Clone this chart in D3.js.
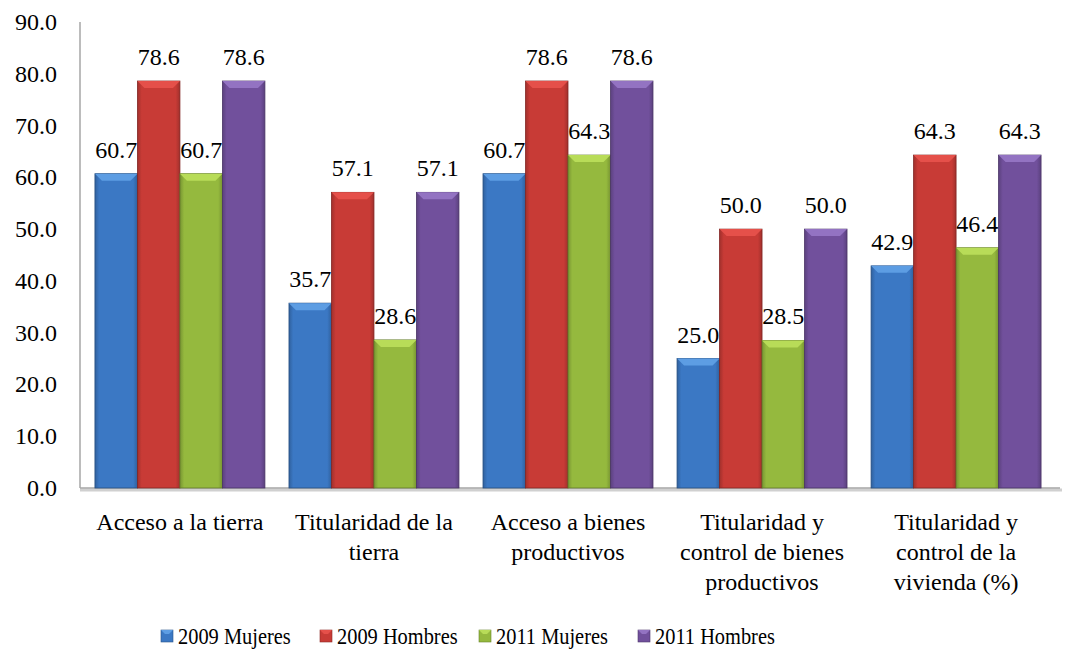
<!DOCTYPE html>
<html>
<head>
<meta charset="utf-8">
<script src="https://cdn.jsdelivr.net/npm/d3@7"></script>
</head>
<body style="margin:0; background:#fff">
<div id="chart"></div>
<script>
// data
var categories = ["Acceso a la tierra", "Titularidad de la tierra", "Acceso a bienes productivos",
  "Titularidad y control de bienes productivos", "Titularidad y control de la vivienda (%)"]
var categoryLines = [
  ["Acceso a la tierra"],
  ["Titularidad de la", "tierra"],
  ["Acceso a bienes", "productivos"],
  ["Titularidad y", "control de bienes", "productivos"],
  ["Titularidad y", "control de la", "vivienda (%)"]
]
var seriesNames = ["2009 Mujeres", "2009 Hombres", "2011 Mujeres", "2011 Hombres"]
var mujeres2009 = [60.7, 35.7, 60.7, 25.0, 42.9]
var hombres2009 = [78.6, 57.1, 78.6, 50.0, 64.3]
var mujeres2011 = [60.7, 28.6, 64.3, 28.5, 46.4]
var hombres2011 = [78.6, 57.1, 78.6, 50.0, 64.3]
var yTicks = [0, 10, 20, 30, 40, 50, 60, 70, 80, 90]

var allSeries = [mujeres2009, hombres2009, mujeres2011, hombres2011]
var colors = ["#3b78c4", "#c83b36", "#95b93e", "#71509c"]
var tops = ["#5d9de3", "#e5504a", "#b8dc58", "#9373c2"]
var font = "'Liberation Serif', 'Times New Roman', serif"

const width = 1069, height = 652

const svg = d3.select("#chart").append("svg")
  .attr("width", width)
  .attr("height", height)

// gradients for the bevelled look
const defs = svg.append("defs")
colors.forEach(function(c, i) {
  const g = defs.append("linearGradient").attr("id", "grad" + i)
    .attr("x1", "0%").attr("x2", "100%").attr("y1", "0%").attr("y2", "0%")
  const dark = d3.color(c).darker(0.6)
  g.append("stop").attr("offset", "0%").attr("stop-color", dark)
  g.append("stop").attr("offset", "10%").attr("stop-color", c)
  g.append("stop").attr("offset", "90%").attr("stop-color", c)
  g.append("stop").attr("offset", "100%").attr("stop-color", dark)
})

const x0 = d3.scaleBand()
  .domain(categories)
  .range([80, 1056])
  .paddingInner(0.124)
  .paddingOuter(0.077)

const x1 = d3.scaleBand()
  .domain(d3.range(4))
  .range([0, x0.bandwidth()])

const y = d3.scaleLinear()
  .domain([0, 90])
  .range([488, 22])

// helper for labels
function label(sel, tx, ty, anchor) {
  return sel.append("text")
    .attr("x", tx)
    .attr("y", ty)
    .attr("text-anchor", anchor)
    .attr("font-family", "Liberation Serif")
    .attr("font-size", 24)
}

// axis lines
svg.append("line").attr("x1", 80).attr("x2", 80).attr("y1", y(90)).attr("y2", y(0))
  .attr("stroke", "#a6a6a6").attr("stroke-width", 1.5)
svg.append("line").attr("x1", 80).attr("x2", 1062).attr("y1", y(0) + 2).attr("y2", y(0) + 2)
  .attr("stroke", "#d0d0d0").attr("stroke-width", 3)
svg.append("line").attr("x1", 80).attr("x2", 1060).attr("y1", y(0)).attr("y2", y(0))
  .attr("stroke", "#a6a6a6").attr("stroke-width", 1.5)

// y labels
yTicks.forEach(function(d) {
  label(svg, 57, y(d) + 8, "end").text(d.toFixed(1))
})

// bars
const groups = svg.selectAll(".grp")
  .data(categories)
  .join("g")
    .attr("class", "grp")
    .attr("transform", function(d) { return `translate(${x0(d)},0)` })

allSeries.forEach(function(vals, s) {
  groups.each(function(cat, ci) {
    const g = d3.select(this)
    const bx = x1(s), bw = x1.bandwidth(), by = y(vals[ci]), bh = y(0) - y(vals[ci])
    g.append("rect")
      .attr("x", bx).attr("y", by).attr("width", bw).attr("height", bh)
      .attr("fill", "url(#grad" + s + ")")
      .attr("stroke", d3.color(colors[s]).darker(1.2))
      .attr("stroke-width", 0.8)
    const b = 7
    g.append("path")
      .attr("d", `M${bx},${by}L${bx + bw},${by}L${bx + bw - b},${by + b}L${bx + b},${by + b}Z`)
      .attr("fill", tops[s])
  })
})

// value labels on top so bars never cover them
allSeries.forEach(function(vals, s) {
  groups.each(function(cat, ci) {
    label(d3.select(this), x1(s) + x1.bandwidth() / 2, y(vals[ci]) - 16, "middle")
      .text(vals[ci].toFixed(1))
  })
})

// category labels
groups.each(function(cat, ci) {
  const t = label(d3.select(this), x0.bandwidth() / 2, 530, "middle")
  categoryLines[ci].forEach(function(line, li) {
    t.append("tspan")
      .attr("x", x0.bandwidth() / 2)
      .attr("y", 530 + li * 30)
      .text(line)
  })
})

// legend
const leg = svg.selectAll(".leg")
  .data(seriesNames)
  .join("g")
    .attr("class", "leg")
    .attr("transform", function(d, i) { return `translate(${161 + i * 159},630)` })
leg.append("rect")
  .attr("width", 12).attr("height", 12)
  .attr("fill", function(d, i) { return colors[i] })
  .attr("stroke", function(d, i) { return d3.color(colors[i]).darker(1) })
  .attr("stroke-width", 0.6)
leg.append("path")
  .attr("d", "M0,0L12,0L8,4L4,4Z")
  .attr("fill", function(d, i) { return tops[i] })
leg.append("text")
  .attr("transform", "translate(17,14) scale(0.85,1)")
  .style("font-family", font)
  .style("font-size", "24px")
  .text(function(d) { return d })
</script>
</body>
</html>
